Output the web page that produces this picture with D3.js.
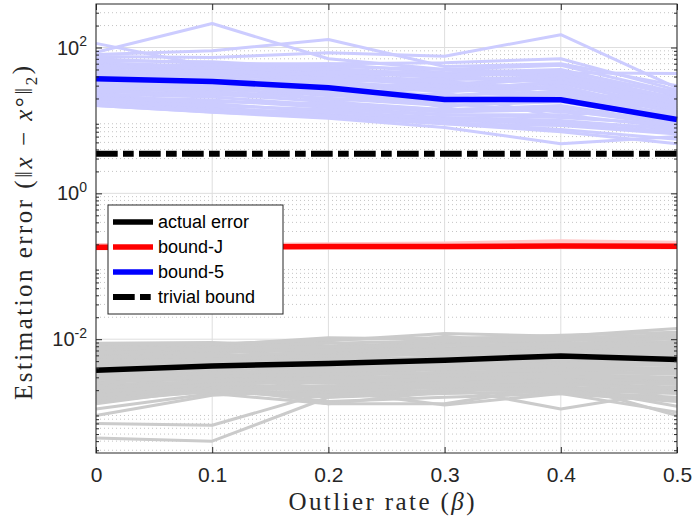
<!DOCTYPE html>
<html>
<head>
<meta charset="utf-8">
<script src="https://cdn.jsdelivr.net/npm/d3@7"></script>
<style>
  body { margin: 0; background: #fff; }
  svg { display: block; }
</style>
</head>
<body>
<div id="chart"></div>
<script>
// Outlier rate on the x axis
const rates = [0, 0.1, 0.2, 0.3, 0.4, 0.5]
const xTicks = [0, 0.1, 0.2, 0.3, 0.4, 0.5]
const yTicks = [1e-2, 1, 1e2]

// mean curves
const actualMean = [0.00376, 0.0043, 0.00464, 0.00515, 0.0059, 0.00527]
const boundJMean = [0.183, 0.184, 0.186, 0.187, 0.19, 0.188]
const bound5Mean = [37.3, 34.2, 28, 19.4, 19.2, 10.3]
const trivialBound = [3.5, 3.5, 3.5, 3.5, 3.5, 3.5]

// individual runs, actual error (x 1e-3)
const actualRuns = [
  [8.3, 8.0, 9.5, 12.0, 11.0, 14.0],
  [7.5, 8.3, 10.5, 10.0, 11.3, 12.5],
  [7.0, 7.2, 8.0, 9.0, 9.5, 11.0],
  [6.5, 6.8, 7.0, 8.5, 10.0, 9.0],
  [6.0, 6.5, 7.5, 7.0, 8.5, 10.5],
  [5.5, 6.0, 6.2, 7.5, 8.0, 8.0],
  [5.2, 5.5, 6.5, 6.0, 7.0, 7.5],
  [5.0, 5.0, 5.5, 6.5, 7.5, 6.5],
  [4.6, 4.8, 5.0, 5.5, 6.0, 7.0],
  [4.3, 4.5, 5.2, 5.0, 6.5, 6.0],
  [4.0, 4.2, 4.5, 5.2, 5.5, 5.5],
  [3.7, 4.0, 4.0, 4.5, 5.0, 5.0],
  [3.5, 3.8, 4.2, 4.0, 4.8, 4.5],
  [3.3, 3.5, 3.8, 4.2, 4.2, 4.0],
  [3.0, 3.3, 3.5, 3.8, 4.0, 3.6],
  [2.8, 3.0, 3.2, 3.4, 3.6, 3.3],
  [2.6, 2.8, 3.0, 3.0, 3.3, 3.0],
  [2.4, 2.6, 2.8, 2.8, 3.0, 2.7],
  [2.2, 2.5, 2.5, 2.6, 2.8, 2.5],
  [2.0, 2.3, 2.2, 2.5, 2.5, 2.2],
  [1.8, 2.2, 2.0, 2.2, 2.2, 2.0],
  [1.6, 2.0, 1.8, 2.0, 2.0, 1.8],
  [1.5, 1.9, 1.6, 1.8, 1.9, 1.6],
  [1.3, 2.1, 1.4, 1.6, 1.8, 1.4],
  [1.1, 1.8, 1.3, 1.3, 2.3, 1.2],
  [0.9, 1.7, 2.0, 1.25, 1.8, 1.0],
  [0.7, 0.66, 1.9, 2.2, 1.1, 2.0],
  [0.44, 0.40, 1.6, 2.0, 2.5, 0.9],
  [8.8, 9.0, 8.0, 7.5, 9.0, 8.5],
  [7.8, 7.5, 6.5, 11.0, 8.0, 7.0],
  [6.8, 6.2, 9.0, 6.5, 6.0, 9.5],
  [5.8, 7.0, 5.8, 6.8, 9.0, 5.8],
  [2.0, 2.6, 3.5, 2.4, 3.2, 4.2],
  [1.7, 2.4, 1.3, 1.9, 2.6, 2.9],
  [2.3, 1.9, 2.7, 3.2, 1.9, 1.5],
  [3.2, 2.9, 2.5, 3.6, 2.4, 2.6],
  [4.8, 3.6, 4.6, 2.9, 4.4, 3.4],
  [6.2, 5.4, 4.8, 5.8, 3.8, 4.8],
  [8.5, 8.6, 9.8, 10.5, 10.5, 11.5],
  [7.2, 7.8, 8.8, 9.5, 9.8, 10.0],
  [6.3, 7.5, 7.8, 8.2, 8.8, 8.5],
  [5.6, 5.8, 6.8, 7.2, 7.8, 7.8],
  [4.9, 5.3, 5.9, 6.2, 6.8, 6.8],
  [4.4, 4.6, 5.4, 5.6, 6.2, 6.2],
  [3.9, 4.3, 4.7, 4.8, 5.2, 5.8],
  [3.4, 3.9, 4.4, 4.4, 4.6, 4.9],
  [2.9, 3.4, 3.7, 3.9, 4.4, 4.4],
  [2.5, 3.1, 3.3, 3.5, 3.8, 3.9],
  [2.1, 2.7, 2.9, 3.2, 3.4, 3.4],
  [1.9, 2.4, 2.6, 2.8, 3.1, 2.9],
  [1.7, 2.1, 2.3, 2.5, 2.7, 2.4],
  [1.5, 2.0, 2.1, 2.3, 2.4, 2.1],
  [1.4, 1.95, 1.7, 2.0, 2.1, 1.9],
  [8.0, 7.0, 7.2, 6.2, 7.2, 9.0]
]

// individual runs, bound-J
const boundJRuns = [
  [0.20, 0.20, 0.205, 0.21, 0.225, 0.215],
  [0.195, 0.196, 0.198, 0.2, 0.21, 0.205],
  [0.19, 0.19, 0.192, 0.194, 0.2, 0.197],
  [0.178, 0.179, 0.18, 0.181, 0.183, 0.182],
  [0.172, 0.173, 0.175, 0.176, 0.178, 0.177]
]

// individual runs, bound-5
const bound5Runs = [
  [114, 55, 60, 45, 40, 25],
  [86, 213, 70, 50, 45, 44],
  [80, 90, 129, 55, 60, 30],
  [75, 73, 85, 76, 150, 28],
  [70, 60, 60, 62, 70, 26],
  [62, 55, 55, 50, 57, 24],
  [58, 50, 48, 45, 50, 22],
  [54, 47, 44, 40, 45, 20],
  [50, 44, 40, 36, 40, 18],
  [46, 41, 36, 32, 36, 16],
  [42, 38, 33, 28, 32, 15],
  [38, 35, 30, 25, 28, 14],
  [35, 32, 27, 22, 25, 13],
  [32, 29, 25, 20, 22, 12],
  [29, 27, 22, 18, 20, 11],
  [27, 25, 20, 16, 18, 10],
  [25, 23, 18, 14, 16, 9],
  [23, 21, 16, 13, 14, 8.5],
  [21, 19, 15, 12, 12, 8],
  [19, 17, 13, 11, 10, 7.5],
  [17.5, 15, 12, 10, 9, 7],
  [16, 13, 11, 9, 8.5, 6.5],
  [16, 12.9, 10.7, 8, 4.8, 6],
  [18, 14, 12, 9, 7, 4.8],
  [30, 45, 35, 25, 30, 9],
  [40, 28, 45, 32, 20, 17],
  [60, 40, 26, 35, 22, 21],
  [24, 32, 22, 28, 45, 13],
  [20, 26, 30, 15, 26, 11],
  [48, 36, 18, 24, 11, 19],
  [66, 64, 52, 42, 48, 23],
  [56, 52, 50, 38, 34, 21],
  [44, 48, 42, 30, 38, 17],
  [36, 42, 38, 34, 26, 15],
  [33, 30, 34, 26, 34, 14],
  [28, 34, 28, 21, 30, 12.5],
  [26, 22, 24, 19, 24, 11.5],
  [22, 24, 20, 17, 13, 10.5],
  [20, 18, 17, 14, 15, 9.5],
  [18, 16, 14, 12, 11, 8.8],
  [17, 14, 13, 10.5, 9.5, 7.8],
  [16.5, 13.5, 11.5, 9.5, 7.5, 5.5],
  [52, 58, 41, 29, 42, 20],
  [44, 38, 46, 40, 33, 18.5],
  [31, 27, 31, 30, 19, 16]
]

const legendLabels = ["actual error", "bound-J", "bound-5", "trivial bound"]

const svgWidth = 693
const svgHeight = 521
const margin = { top: 4, right: 16, bottom: 68, left: 96 }
const width = svgWidth - margin.left - margin.right
const height = svgHeight - margin.top - margin.bottom

const svg = d3.select("#chart")
  .append("svg")
  .attr("width", svgWidth)
  .attr("height", svgHeight)

const g = svg.append("g")
  .attr("transform", `translate(${margin.left}, ${margin.top})`)

const x = d3.scaleLinear().domain([0, 0.5]).range([0, width])
const y = d3.scaleLog().domain([2.75e-4, 395]).range([height, 0])

// minor log values inside the domain
let minorVals = []
for (let e = -4; e <= 2; e++) {
  for (let m = 2; m <= 9; m++) {
    let v = m * Math.pow(10, e)
    if (v > 2.75e-4 && v < 395) minorVals.push(v)
  }
}

// grid
const grid = g.append("g")
grid.selectAll(".minor").data(minorVals).enter().append("line")
  .attr("x1", 0).attr("x2", width)
  .attr("y1", d => y(d)).attr("y2", d => y(d))
  .attr("stroke", "#c4c4c4").attr("stroke-width", 1)
  .attr("stroke-dasharray", "1,3")
grid.selectAll(".majorY").data(yTicks).enter().append("line")
  .attr("x1", 0).attr("x2", width)
  .attr("y1", d => y(d)).attr("y2", d => y(d))
  .attr("stroke", "#dedede").attr("stroke-width", 1)
grid.selectAll(".majorX").data(xTicks).enter().append("line")
  .attr("x1", d => x(d)).attr("x2", d => x(d))
  .attr("y1", 0).attr("y2", height)
  .attr("stroke", "#dedede").attr("stroke-width", 1)

const line = d3.line()
  .x((d, i) => x(rates[i]))
  .y(d => y(d))

const plot = g.append("g")

// runs
plot.selectAll(".b5run").data(bound5Runs).enter().append("path")
  .attr("d", line)
  .attr("fill", "none").attr("stroke", "#ccccff").attr("stroke-width", 3)
  .attr("stroke-linejoin", "round")

plot.selectAll(".aerun").data(actualRuns).enter().append("path")
  .attr("d", d => line(d.map(v => v * 1e-3)))
  .attr("fill", "none").attr("stroke", "#cbcbcb").attr("stroke-width", 3)
  .attr("stroke-linejoin", "round")

plot.selectAll(".bjrun").data(boundJRuns).enter().append("path")
  .attr("d", line)
  .attr("fill", "none").attr("stroke", "#ffc8c8").attr("stroke-width", 2.5)

// means
plot.append("path").attr("d", line(trivialBound))
  .attr("fill", "none").attr("stroke", "#000").attr("stroke-width", 6)
  .attr("stroke-dasharray", "21.7,5.3,10.7,5.3")
plot.append("path").attr("d", line(bound5Mean))
  .attr("fill", "none").attr("stroke", "#0000ff").attr("stroke-width", 5.5)
plot.append("path").attr("d", line(boundJMean))
  .attr("fill", "none").attr("stroke", "#ff0000").attr("stroke-width", 5.5)
plot.append("path").attr("d", line(actualMean))
  .attr("fill", "none").attr("stroke", "#000").attr("stroke-width", 5.5)

// axes (ticks inward, MATLAB style)
const axisColor = "#262626"
const tickFont = "'Liberation Sans', Arial, Helvetica, sans-serif"

let xAxis = g.append("g")
  .attr("transform", `translate(0, ${height})`)
  .call(d3.axisBottom(x).tickValues(xTicks).tickSize(-6).tickSizeOuter(0).tickPadding(14).tickFormat(d3.format("")))
xAxis.selectAll("text").attr("font-family", tickFont).attr("font-size", 21).attr("fill", axisColor)

g.append("g")
  .call(d3.axisTop(x).tickValues(xTicks).tickSize(-6).tickSizeOuter(0).tickFormat(""))

let yAxis = g.append("g")
  .call(d3.axisLeft(y).tickValues(yTicks).tickSize(-6).tickSizeOuter(0).tickPadding(9).tickFormat(""))
yAxis.selectAll(".tick text").each(function(d) {
  let t = d3.select(this)
  t.attr("font-family", tickFont).attr("font-size", 20).attr("fill", axisColor).attr("dy", "0.33em")
  t.append("tspan").text("10")
  t.append("tspan").attr("font-size", 14).attr("dy", "-0.62em").text(Math.round(Math.log10(d)))
})

g.append("g")
  .call(d3.axisLeft(y).tickValues(minorVals).tickSize(-3).tickSizeOuter(0).tickFormat(""))
g.append("g").attr("transform", `translate(${width}, 0)`)
  .call(d3.axisRight(y).tickValues(yTicks).tickSize(-6).tickSizeOuter(0).tickFormat(""))
g.append("g").attr("transform", `translate(${width}, 0)`)
  .call(d3.axisRight(y).tickValues(minorVals).tickSize(-3).tickSizeOuter(0).tickFormat(""))

g.selectAll(".domain").remove()
g.selectAll(".tick line").attr("stroke", axisColor)

// box
g.append("rect")
  .attr("width", width).attr("height", height)
  .attr("fill", "none").attr("stroke", axisColor).attr("stroke-width", 1)

// axis labels (LaTeX look)
const serif = "'Liberation Serif', 'Times New Roman', serif"
let xl = svg.append("text")
  .attr("x", margin.left + width / 2 - 5).attr("y", 510)
  .attr("text-anchor", "middle")
  .attr("font-family", serif).attr("font-size", 25).attr("fill", axisColor)
  .attr("textLength", 186).attr("lengthAdjust", "spacing")
xl.append("tspan").text("Outlier rate (")
xl.append("tspan").attr("font-style", "italic").text("β")
xl.append("tspan").text(")")

let yl = svg.append("text")
  .attr("transform", `translate(32, 233) rotate(-90)`)
  .attr("text-anchor", "middle")
  .attr("font-family", serif).attr("font-size", 25).attr("fill", axisColor)
  .attr("textLength", 334).attr("lengthAdjust", "spacing")
yl.append("tspan").text("Estimation error (‖")
yl.append("tspan").attr("font-style", "italic").text("x")
yl.append("tspan").text(" − ")
yl.append("tspan").attr("font-style", "italic").text("x")
yl.append("tspan").text("°‖")
yl.append("tspan").attr("font-size", 17).attr("dy", "0.3em").text("2")
yl.append("tspan").attr("dy", "-0.3em").text(")")

// legend
const legendStyles = [
  { color: "#000", dash: null },
  { color: "#ff0000", dash: null },
  { color: "#0000ff", dash: null },
  { color: "#000", dash: "21.7,5.3,10.7,5.3" }
]
let legend = svg.append("g").attr("transform", "translate(108, 205)")
legend.append("rect")
  .attr("width", 175).attr("height", 109)
  .attr("fill", "#fff").attr("stroke", axisColor).attr("stroke-width", 1)
let rows = legend.selectAll(".row").data(legendLabels).enter().append("g")
  .attr("transform", (d, i) => `translate(0, ${17 + i * 25})`)
rows.append("line")
  .attr("x1", 5).attr("x2", 45).attr("y1", 0).attr("y2", 0)
  .attr("stroke", (d, i) => legendStyles[i].color)
  .attr("stroke-width", (d, i) => i == 3 ? 6 : 5.5)
  .attr("stroke-dasharray", (d, i) => legendStyles[i].dash)
rows.append("text")
  .attr("x", 50).attr("y", 0).attr("dy", "0.35em")
  .attr("font-family", tickFont).attr("font-size", 18).attr("fill", "#000")
  .text(d => d)
</script>
</body>
</html>
